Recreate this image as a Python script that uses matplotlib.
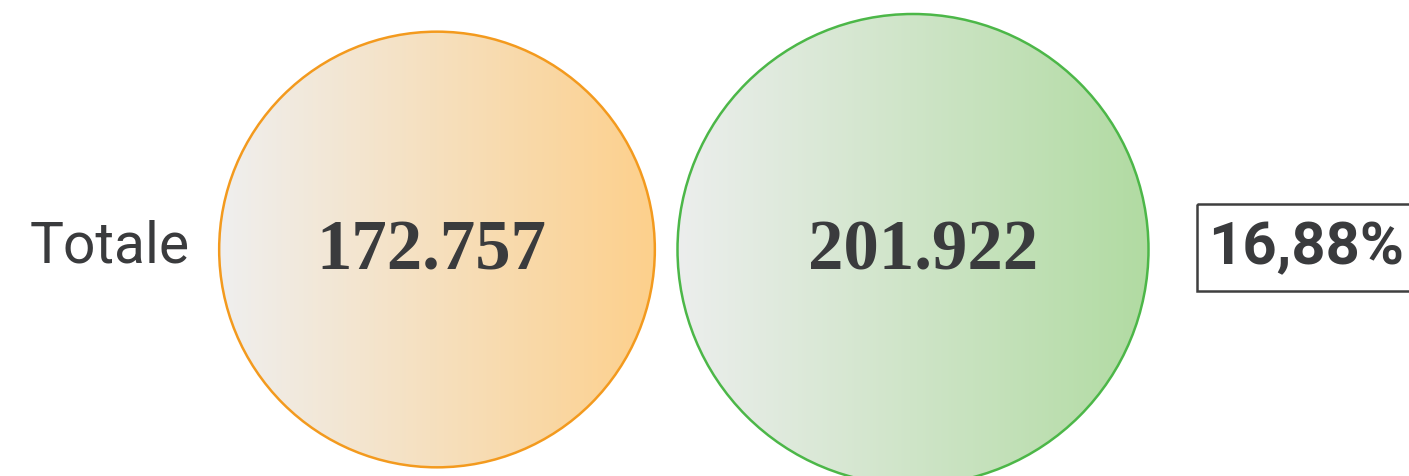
import matplotlib.pyplot as plt
from matplotlib.patches import Circle, Rectangle
from matplotlib.colors import LinearSegmentedColormap
import numpy as np

row_labels = ["Totale"]
values_before = [172757]
values_after = [201922]

start_cols = ["#efefef", "#eceeed"]
end_cols = ["#fdd08c", "#b1dba2"]
edge_cols = ["#f39a1e", "#4cb748"]
text_col = "#3a3b3d"


def fmt_it(v):
    return f"{v:,}".replace(",", ".")


fig = plt.figure(figsize=(14.09, 4.77), dpi=100)
ax = fig.add_axes([0, 0, 1, 1])
ax.set_xlim(0, 1409)
ax.set_ylim(477, 0)
ax.set_aspect("equal")
ax.axis("off")

vals = [values_before[0], values_after[0]]
vmax = max(vals)
r_max = 235.5
centers_x = [437, 913]
label_dx = [-6, 10]
cy = 250.5

grad = np.linspace(0, 1, 256).reshape(1, -1)
for i, v in enumerate(vals):
    r = r_max * np.sqrt(v / vmax)
    cx = centers_x[i]
    cmap = LinearSegmentedColormap.from_list(f"g{i}", [start_cols[i], end_cols[i]])
    circ = Circle((cx, cy), r, facecolor="none", edgecolor=edge_cols[i], lw=1.8, zorder=3)
    ax.add_patch(circ)
    im = ax.imshow(grad, cmap=cmap, extent=[cx - r, cx + r, cy + r, cy - r],
                   aspect="auto", zorder=2, interpolation="bicubic")
    im.set_clip_path(circ)
    ax.text(cx + label_dx[i], cy + 1, fmt_it(v), ha="center", va="center", fontsize=51,
            fontweight="bold", family="Liberation Serif", color=text_col, zorder=4)

ax.text(30, 247, row_labels[0], ha="left", va="center", fontsize=41,
        family="Roboto", color=text_col)

change = (values_after[0] / values_before[0] - 1) * 100
ax.text(1306, 248, f"{change:.2f}%".replace(".", ","), ha="center", va="center",
        fontsize=43, fontweight="bold", family="Roboto", color=text_col, zorder=4)
ax.add_patch(Rectangle((1197, 205), 240, 87, facecolor="none", edgecolor="#3f3f3f",
                       lw=1.8, zorder=4))

ax.set_xlim(0, 1409)
ax.set_ylim(477, 0)
fig.savefig("out.png", dpi=100)
